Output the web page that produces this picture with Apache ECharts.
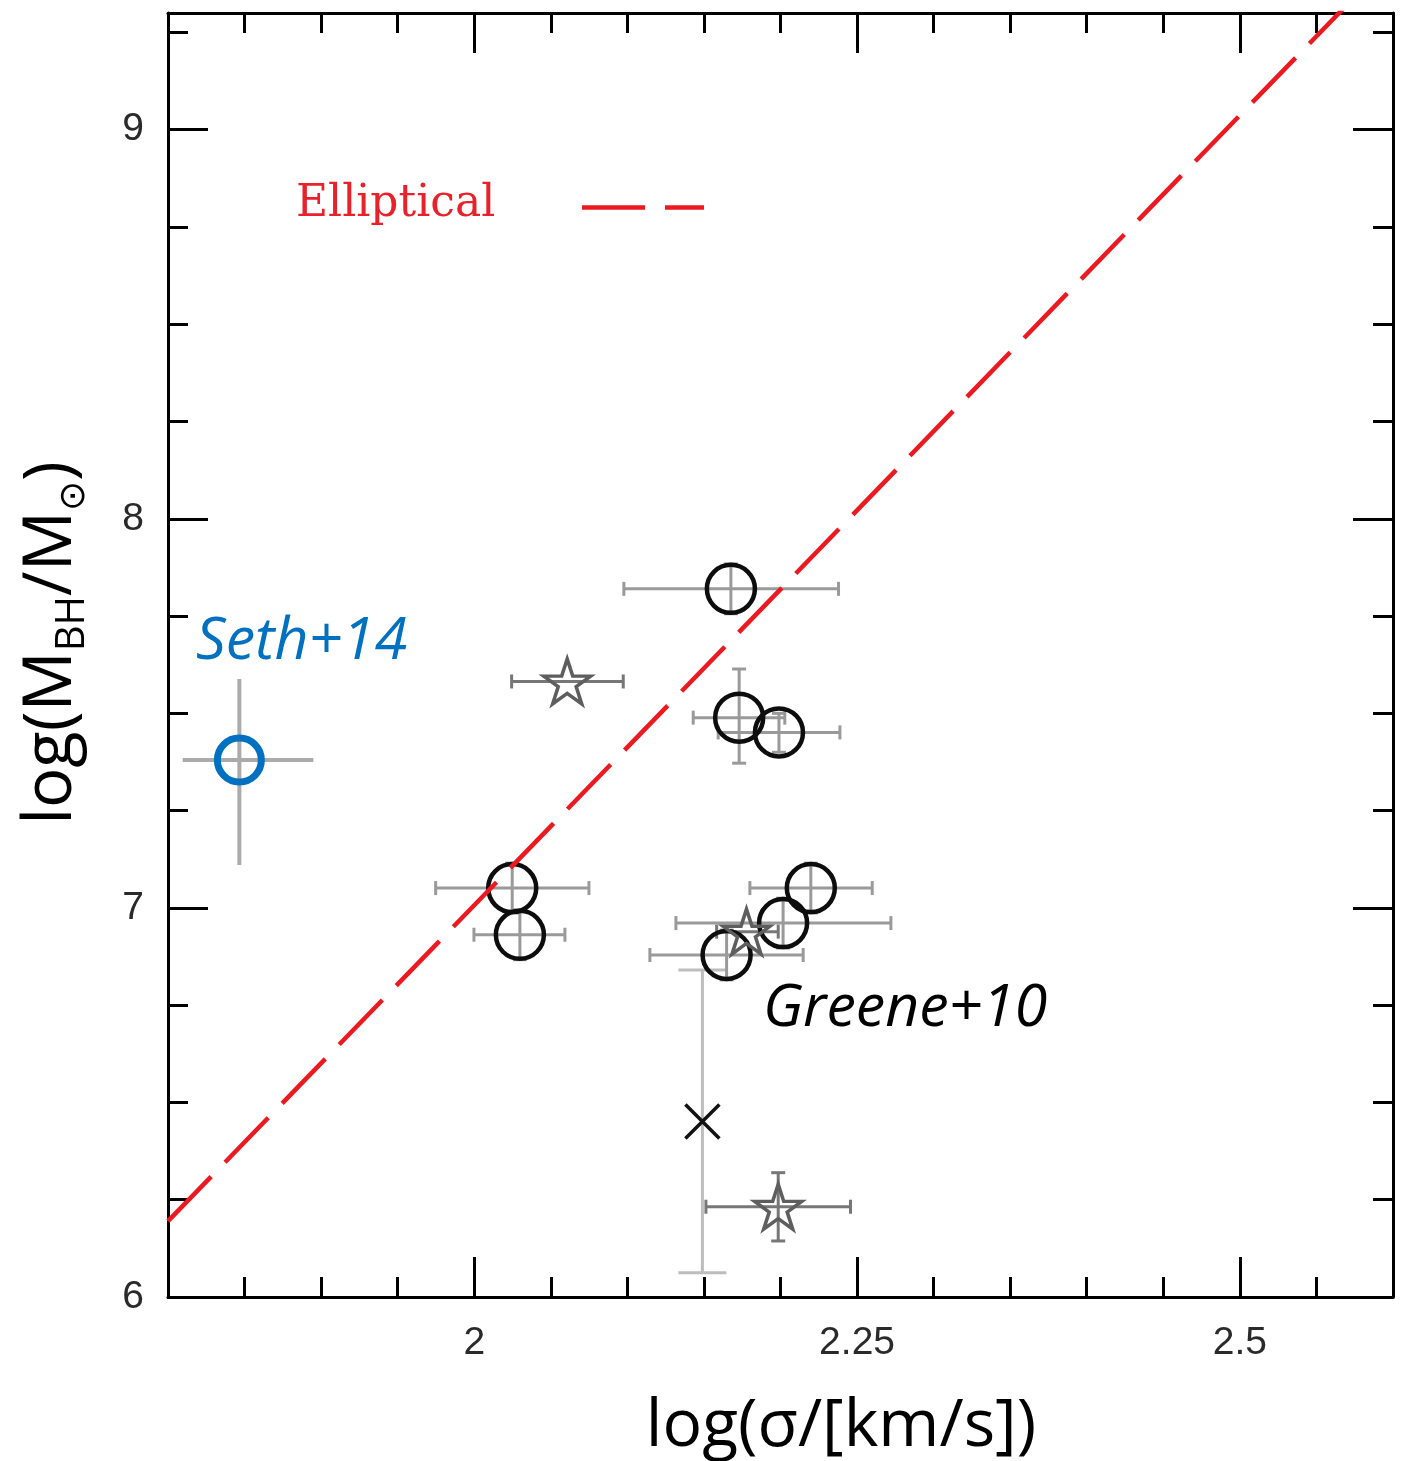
<!DOCTYPE html>
<html>
<head>
<meta charset="utf-8">
<script src="https://cdn.jsdelivr.net/npm/echarts@6/dist/echarts.min.js"></script>
<style>
  html, body { margin: 0; padding: 0; background: #fff; }
  #chart { width: 1411px; height: 1461px; }
</style>
</head>
<body>
<div id="chart"></div>
<script>
// Axis ticks (log sigma on x, log M_BH on y)
const xMajorTicks = [2, 2.25, 2.5];
const xMinorTicks = [1.85, 1.9, 1.95, 2.05, 2.1, 2.15, 2.2, 2.3, 2.35, 2.4, 2.45, 2.55];
const yMajorTicks = [6, 7, 8, 9];
const yMinorTicks = [6.25, 6.5, 6.75, 7.25, 7.5, 7.75, 8.25, 8.5, 8.75, 9.25];

// Elliptical relation (dashed red line), endpoints
const ellipLogSigma = [1.8, 2.6];
const ellipLogMass = [6.195, 9.443];

// Greene+10 galaxies: open circles
const circLogSigma = [2.1676, 2.173, 2.199, 2.0248, 2.0298, 2.2198, 2.2017, 2.1648];
const circLogMass  = [7.82, 7.489, 7.451, 7.051, 6.931, 7.051, 6.961, 6.879];
const circSigmaLo  = [2.0977, 2.143, 2.1593, 1.9748, 1.9998, 2.18, 2.1317, 2.1147];
const circSigmaHi  = [2.2379, 2.2028, 2.2388, 2.0749, 2.0592, 2.2599, 2.2721, 2.2148];
const circMassLo   = [7.756, 7.372, 7.40, 6.987, 6.867, 6.987, 6.897, 6.815];
const circMassHi   = [7.884, 7.614, 7.50, 7.115, 6.995, 7.115, 7.025, 6.943];

// Greene+10 galaxies: open stars
const starLogSigma = [2.0607, 2.1778, 2.1985];
const starLogMass  = [7.582, 6.939, 6.232];
const starSigmaLo  = [2.0244, 2.1583, 2.1513];
const starSigmaHi  = [2.0973, 2.1985, 2.2457];
const starMassLo   = [7.582, 6.939, 6.144];
const starMassHi   = [7.582, 6.939, 6.3195];

// Single cross with a large mass uncertainty
const crossLogSigma = [2.149];
const crossLogMass  = [6.451];
const crossMassLo   = [6.0625];
const crossMassHi   = [6.8406];

// Seth+14
const sethLogSigma = [1.8466];
const sethLogMass  = [7.380];
const sethSigmaLo  = [1.8096];
const sethSigmaHi  = [1.8949];
const sethMassLo   = [7.1105];
const sethMassHi   = [7.588];

const AXIS_MIN_X = 1.8, AXIS_MAX_X = 2.6, AXIS_MIN_Y = 6, AXIS_MAX_Y = 9.3;
const STAR_PATH = 'path://M50,0 L61.2,34.5 L97.6,34.5 L68.2,55.9 L79.4,90.5 L50,69.1 L20.6,90.5 L31.8,55.9 L2.4,34.5 L38.8,34.5 Z';
const CROSS_PATH = 'path://M0,0 L10,10 M10,0 L0,10';

function zip(xs, ys) { return xs.map((x, i) => [x, ys[i]]); }

// Error bars drawn through the axes' own coordinate system
function errorBars(xs, ys, xLo, xHi, yLo, yHi, color, width, cap, z) {
  const data = xs.map((x, i) => [x, ys[i], xLo[i], xHi[i], yLo[i], yHi[i]]);
  return {
    type: 'custom', xAxisIndex: 0, yAxisIndex: 0, z: z, silent: true,
    encode: { x: 0, y: 1 },
    data: data,
    renderItem: function (params, api) {
      const v = [0, 1, 2, 3, 4, 5].map(k => api.value(k));
      const l = api.coord([v[2], v[1]]);
      const r = api.coord([v[3], v[1]]);
      const lo = api.coord([v[0], v[4]]);
      const hi = api.coord([v[0], v[5]]);
      const style = { stroke: color, lineWidth: width, fill: null };
      const kids = [];
      const seg = (x1, y1, x2, y2) => kids.push({ type: 'line', shape: { x1, y1, x2, y2 }, style });
      if (r[0] - l[0] > 0.5) {
        seg(l[0], l[1], r[0], r[1]);
        if (cap > 0) { seg(l[0], l[1] - cap, l[0], l[1] + cap); seg(r[0], r[1] - cap, r[0], r[1] + cap); }
      }
      if (lo[1] - hi[1] > 0.5) {
        seg(lo[0], lo[1], hi[0], hi[1]);
        if (cap > 0) { seg(lo[0] - cap, lo[1], lo[0] + cap, lo[1]); seg(hi[0] - cap, hi[1], hi[0] + cap, hi[1]); }
      }
      return { type: 'group', children: kids };
    }
  };
}

const tickFont = { fontSize: 39, color: '#2a2a2a', fontFamily: 'Liberation Sans' };

function xAxisDef(position, ticks, len, withLine, withLabels) {
  return {
    type: 'value', min: AXIS_MIN_X, max: AXIS_MAX_X, position: position,
    axisLine: { show: withLine, onZero: false, lineStyle: { color: '#000', width: 3 } },
    axisTick: { show: true, inside: true, length: len, customValues: ticks, lineStyle: { color: '#000', width: 3 } },
    axisLabel: withLabels ? Object.assign({ show: true, customValues: ticks, margin: 27 }, tickFont) : { show: false },
    splitLine: { show: false }
  };
}
function yAxisDef(position, ticks, len, withLine, withLabels) {
  return {
    type: 'value', min: AXIS_MIN_Y, max: AXIS_MAX_Y, position: position,
    axisLine: { show: withLine, onZero: false, lineStyle: { color: '#000', width: 3 } },
    axisTick: { show: true, inside: true, length: len, customValues: ticks, lineStyle: { color: '#000', width: 3 } },
    axisLabel: withLabels ? Object.assign({ show: true, customValues: ticks, margin: 24 }, tickFont) : { show: false },
    splitLine: { show: false }
  };
}

const chart = echarts.init(document.getElementById('chart'), null, { renderer: 'canvas' });

const option = {
  animation: false,
  backgroundColor: '#ffffff',
  grid: { left: 168, right: 18, top: 13, bottom: 164, containLabel: false },
  xAxis: [
    xAxisDef('bottom', xMajorTicks, 40, true, true),
    xAxisDef('bottom', xMinorTicks, 20, false, false),
    xAxisDef('top', xMajorTicks, 40, true, false),
    xAxisDef('top', xMinorTicks, 20, false, false)
  ],
  yAxis: [
    yAxisDef('left', yMajorTicks, 40, true, true),
    yAxisDef('left', yMinorTicks, 20, false, false),
    yAxisDef('right', yMajorTicks, 40, true, false),
    yAxisDef('right', yMinorTicks, 20, false, false)
  ],
  series: [
    errorBars(circLogSigma, circLogMass, circSigmaLo, circSigmaHi, circMassLo, circMassHi, '#9a9a9a', 3, 7, 2),
    errorBars(starLogSigma, starLogMass, starSigmaLo, starSigmaHi, starMassLo, starMassHi, '#777777', 3, 7, 2),
    errorBars(crossLogSigma, crossLogMass, crossLogSigma, crossLogSigma, crossMassLo, crossMassHi, '#bdbdbd', 3, 24, 1),
    errorBars(sethLogSigma, sethLogMass, sethSigmaLo, sethSigmaHi, sethMassLo, sethMassHi, '#ababab', 4, 0, 2),
    {
      type: 'scatter', xAxisIndex: 0, yAxisIndex: 0, z: 5, silent: true,
      data: zip(circLogSigma, circLogMass),
      symbol: 'circle', symbolSize: 48,
      itemStyle: { color: 'rgba(0,0,0,0)', borderColor: '#0d0d0d', borderWidth: 4.5, opacity: 1 }
    },
    {
      type: 'scatter', xAxisIndex: 0, yAxisIndex: 0, z: 5, silent: true,
      data: zip(starLogSigma, starLogMass),
      symbol: STAR_PATH, symbolSize: [47, 45],
      itemStyle: { color: 'rgba(0,0,0,0)', borderColor: '#5e5e5e', borderWidth: 3.5, opacity: 1 }
    },
    {
      type: 'scatter', xAxisIndex: 0, yAxisIndex: 0, z: 5, silent: true,
      data: zip(crossLogSigma, crossLogMass),
      symbol: CROSS_PATH, symbolSize: 34,
      itemStyle: { color: 'rgba(0,0,0,0)', borderColor: '#111', borderWidth: 3.5, opacity: 1 }
    },
    {
      type: 'scatter', xAxisIndex: 0, yAxisIndex: 0, z: 5, silent: true,
      data: zip(sethLogSigma, sethLogMass),
      symbol: 'circle', symbolSize: 44,
      itemStyle: { color: 'rgba(0,0,0,0)', borderColor: '#0070C0', borderWidth: 7, opacity: 1 }
    },
    {
      type: 'line', xAxisIndex: 0, yAxisIndex: 0, z: 8, silent: true, clip: true,
      data: zip(ellipLogSigma, ellipLogMass),
      showSymbol: false, symbol: 'none',
      lineStyle: { color: '#ec1a20', width: 4.5, type: [62, 20] }
    }
  ],
  graphic: [
    {
      type: 'text', x: 296, y: 205, z: 20,
      style: { text: 'Elliptical', font: '44px "DejaVu Serif"', fill: '#e8212a', align: 'left', verticalAlign: 'middle' }
    },
    {
      type: 'line', z: 20,
      shape: { x1: 582, y1: 207.5, x2: 704, y2: 207.5 },
      style: { stroke: '#ec1a20', lineWidth: 4.5, lineDash: [63, 20] }
    },
    {
      type: 'text', x: 196, y: 642, z: 20,
      style: { text: 'Seth+14', font: 'italic 59px "Open Sans"', fill: '#0070C0', align: 'left', verticalAlign: 'middle' }
    },
    {
      type: 'text', x: 763, y: 1009, z: 20,
      style: { text: 'Greene+10', font: 'italic 59px "Open Sans"', fill: '#000', align: 'left', verticalAlign: 'middle' }
    },
    {
      type: 'text', x: 841, y: 1427, z: 20,
      style: { text: 'log(σ/[km/s])', font: '66px "Open Sans"', fill: '#000', align: 'center', verticalAlign: 'middle' }
    },
    {
      type: 'text', x: 52, y: 643, z: 20, rotation: Math.PI / 2,
      style: {
        text: '{m|log(M}{s|BH}{m|/M}{o|⊙}{m|)}',
        align: 'center', verticalAlign: 'middle', fill: '#000',
        rich: {
          m: { fontFamily: 'Open Sans', fontSize: 67, lineHeight: 82, fill: '#000' },
          s: { fontFamily: 'Open Sans', fontSize: 40, lineHeight: 46, verticalAlign: 'bottom', fill: '#000' },
          o: { fontFamily: 'DejaVu Sans', fontSize: 36, lineHeight: 46, verticalAlign: 'bottom', fill: '#000' }
        }
      }
    }
  ]
};

chart.setOption(option);
</script>
</body>
</html>
